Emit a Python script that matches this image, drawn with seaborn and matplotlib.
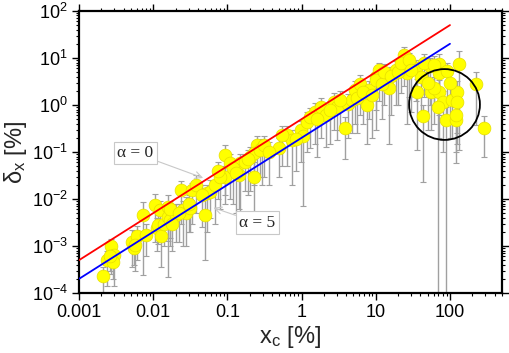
import numpy as np
import pandas as pd
import matplotlib
matplotlib.use("Agg")
import matplotlib.pyplot as plt
import matplotlib.ticker as ticker
import seaborn as sns

# --- data (x_c in %, delta_x in %, error bar ends) ---
xc = [0.0021, 0.0024, 0.0027, 0.0030, 0.0029, 0.0026, 0.0052, 0.0055, 0.0060, 0.0057,
      0.0072, 0.0079, 0.0106, 0.0112, 0.0117, 0.0127, 0.0124, 0.0140, 0.0156, 0.0156,
      0.0170, 0.0202, 0.0237, 0.0250, 0.0276, 0.0315, 0.0335, 0.0380, 0.0505, 0.0530,
      0.0590, 0.0690, 0.094, 0.094, 0.110, 0.142, 0.150, 0.204, 0.226, 0.250,
      0.290, 0.226, 0.278, 0.494, 0.64, 0.75, 0.98, 1.03, 1.2, 1.53,
      1.8, 2.1, 2.75, 3.0, 3.9, 4.2, 4.8, 5.3, 6.2, 7.7,
      8.1, 10.0, 11.0, 10.0, 15.0, 18.6, 24.0, 26.0, 35.0, 41.0,
      53.0, 71.0, 132.0, 36.0, 55.0, 71.0, 71.0, 61.0, 80.0, 68.0,
      107.0, 124.0, 124.0, 43.0, 88.0, 120.0, 120.0, 224.0, 290.0,
      0.017, 0.022, 0.018, 0.030, 0.045, 0.080, 0.075, 0.120, 0.170, 0.190,
      0.130, 0.31, 0.36, 0.55, 0.85, 1.3, 1.6, 2.4, 3.3, 5.6,
      6.8, 9.0, 12.0, 13.0, 16.0, 20.0, 22.0, 28.0, 30.0, 45.0,
      60.0, 90.0, 100.0, 50.0]
dx = [2.3e-4, 5.0e-4, 1.0e-3, 6.5e-4, 4.5e-4, 6.0e-4, 1.2e-3, 9.0e-4, 1.6e-3, 1.05e-3,
      4.6e-3, 1.7e-3, 7.5e-3, 2.4e-3, 2.8e-3, 1.6e-3, 5.8e-3, 2.9e-3, 6.9e-3, 4.2e-3,
      3.5e-3, 4.6e-3, 1.56e-2, 5.8e-3, 5.0e-3, 6.3e-3, 1.56e-2, 2.0e-2, 4.6e-3, 1.32e-2,
      1.42e-2, 1.98e-2, 8.7e-2, 3.0e-2, 5.7e-2, 3.2e-2, 5.7e-2, 7.9e-2, 3.0e-2, 1.4e-1,
      1.2e-1, 9.4e-2, 1.1e-1, 1.2e-1, 2.3e-1, 1.8e-1, 2.9e-1, 2.2e-1, 4.4e-1, 7.2e-1,
      9.2e-1, 6.1e-1, 1.16, 9.2e-1, 3.2e-1, 1.07, 1.27, 2.06, 2.8, 1.0,
      2.06, 4.0, 5.5, 3.4, 2.3, 5.5, 11.6, 4.7, 6.0, 4.0,
      6.6, 7.6, 7.6, 1.9, 1.9, 1.9, 4.7, 2.3, 1.16, 0.92,
      1.27, 1.9, 1.16, 0.57, 0.48, 0.48, 0.61, 2.8, 0.32,
      6.0e-3, 5.0e-3, 3.0e-3, 8.0e-3, 1.2e-2, 3.0e-2, 4.0e-2, 4.5e-2, 6.0e-2, 7.0e-2,
      3.5e-2, 1.4e-1, 1.0e-1, 2.3e-1, 1.9e-1, 5.5e-1, 5.0e-1, 8.0e-1, 1.3, 1.4,
      1.9, 1.6, 2.8, 5.0, 4.2, 5.0, 8.0, 9.0, 5.5, 8.0,
      7.0, 5.2, 3.0, 3.0]
dx_lo = [9e-5, 1.4e-4, 2.5e-4, 1.4e-4, 2.0e-4, 3.0e-4, 3.5e-4, 4.0e-4, 5.0e-4, 3.0e-4,
         2.4e-4, 6.0e-4, 1.2e-3, 8.0e-4, 1.1e-3, 3.5e-4, 1.5e-3, 1.0e-3, 2.2e-4, 1.3e-3,
         1.0e-3, 1.2e-3, 3.0e-3, 1.0e-3, 1.0e-3, 2.0e-3, 3.0e-3, 5.0e-3, 5.0e-4, 2.0e-3,
         4.0e-3, 3.0e-3, 1.2e-2, 8.0e-3, 1.0e-2, 6.0e-3, 4.0e-3, 1.5e-2, 4.0e-3, 3.0e-2,
         2.0e-2, 2.0e-2, 3.0e-2, 3.0e-2, 5.0e-2, 2.0e-2, 6.0e-2, 7.0e-3, 1.0e-1, 1.5e-1,
         2.0e-1, 1.3e-1, 3.0e-1, 1.8e-1, 7.0e-2, 2.0e-1, 2.5e-1, 4.0e-1, 6.0e-1, 1.5e-1,
         5.0e-1, 8.0e-1, 1.2, 3.0e-1, 1.5e-1, 1.0, 2.5, 4.0e-1, 1.2, 6.0e-1,
         1.0, 1.5, 1.1e-1, 1.1e-1, 3.0e-1, 2.0e-1, 6.0e-1, 4.0e-1, 1.0e-1, 5e-5,
         2.0e-1, 2.5e-1, 1.5e-1, 2.3e-2, 5e-5, 5.8e-2, 1.0e-1, 3.7e-1, 7.9e-2,
         1.5e-3, 1.2e-3, 8.0e-4, 2.0e-3, 2.5e-3, 6.0e-3, 1.0e-2, 8.0e-3, 1.5e-2, 1.2e-2,
         5.0e-3, 3.0e-2, 2.0e-2, 5.0e-2, 4.0e-2, 1.2e-1, 8.0e-2, 1.5e-1, 3.0e-1, 2.5e-1,
         4.0e-1, 2.0e-1, 5.0e-1, 1.0, 6.0e-1, 1.0, 1.8, 1.5, 7.0e-1, 1.5,
         1.0, 6.0e-1, 2.0e-1, 3.0e-1]
dx_hi = [3.5e-4, 8.0e-4, 1.4e-3, 1.0e-3, 7.0e-4, 9.0e-4, 2.2e-3, 1.6e-3, 2.6e-3, 1.6e-3,
         8.8e-3, 3.0e-3, 1.3e-2, 4.0e-3, 4.5e-3, 2.8e-3, 9.0e-3, 5.0e-3, 1.2e-2, 7.0e-3,
         5.5e-3, 8.0e-3, 2.4e-2, 9.0e-3, 1.1e-2, 1.0e-2, 2.2e-2, 3.2e-2, 1.0e-2, 2.0e-2,
         2.5e-2, 3.5e-2, 1.4e-1, 5.0e-2, 9.0e-2, 6.0e-2, 9.0e-2, 1.3e-1, 6.0e-2, 2.2e-1,
         1.9e-1, 1.5e-1, 1.7e-1, 2.0e-1, 3.5e-1, 3.0e-1, 4.5e-1, 3.5e-1, 7.0e-1, 1.1,
         1.4, 1.0, 1.8, 1.5, 5.5e-1, 1.7, 2.0, 3.2, 4.4, 1.7,
         3.3, 6.0, 8.0, 5.0, 3.8, 8.5, 17.0, 7.5, 9.0, 6.5,
         10.0, 12.0, 14.0, 3.5, 3.2, 3.4, 7.5, 4.0, 2.0, 1.6,
         2.2, 3.2, 2.0, 1.0, 0.9, 0.9, 1.1, 5.0, 0.57,
         9.0e-3, 8.0e-3, 5.0e-3, 1.2e-2, 2.0e-2, 5.0e-2, 6.0e-2, 7.0e-2, 9.0e-2, 1.1e-1,
         6.0e-2, 2.2e-1, 1.6e-1, 3.5e-1, 3.0e-1, 8.5e-1, 8.0e-1, 1.2, 2.0, 2.2,
         3.0, 2.6, 4.5, 7.5, 6.5, 7.5, 12.0, 13.0, 8.5, 12.0,
         11.0, 8.0, 5.0, 5.0]

# model lines delta = x/2 (alpha=0) and delta = x/5 (alpha=5)
line_x = [0.001, 100]
red_y = [5e-4, 50]
blue_y = [2e-4, 20]

circle_center = (82, 1.05)

df = pd.DataFrame({"xc": xc, "dx": dx, "lo": dx_lo, "hi": dx_hi})
lines = pd.DataFrame({"x": line_x * 2, "y": red_y + blue_y,
                      "model": ["a0", "a0", "a5", "a5"]})

sns.set_theme(style="ticks")
plt.rcParams['font.family'] = ['Liberation Sans', 'DejaVu Sans']
plt.rcParams['mathtext.default'] = 'regular'

fig = plt.figure(figsize=(5.1, 3.53), dpi=100)
ax = fig.add_axes([0.155, 0.170, 0.829, 0.799])

# error bars behind the markers
ax.errorbar(df["xc"], df["dx"],
            yerr=[df["dx"] - df["lo"], df["hi"] - df["dx"]],
            fmt="none", ecolor="#a0a0a0", elinewidth=1.0, capsize=2.2,
            capthick=0.8, zorder=1)
sns.scatterplot(data=df, x="xc", y="dx", ax=ax, s=85, color="#ffff00",
                edgecolor="#e6de00", linewidth=0.5, zorder=3, legend=False)
sns.lineplot(data=lines, x="x", y="y", hue="model", ax=ax,
             palette={"a0": "#ff0000", "a5": "#0000ff"}, linewidth=1.3,
             legend=False, zorder=4)

# circle around the saturated points
ax.plot([circle_center[0]], [circle_center[1]], marker="o", ms=51,
        mfc="none", mec="black", mew=1.3, zorder=5)

ax.set_xscale("log")
ax.set_yscale("log")
ax.set_xlim(0.001, 500)
ax.set_ylim(1e-4, 1e2)
ax.xaxis.set_major_formatter(ticker.FuncFormatter(lambda v, _: f"{v:g}"))
ax.yaxis.set_major_locator(ticker.LogLocator(base=10, numticks=10))

ax.tick_params(which="both", direction="out", top=True, right=True,
               labeltop=False, labelright=False, colors="black")
ax.tick_params(which="major", length=5, width=1.0, labelsize=13, pad=3)
ax.tick_params(which="minor", length=2.5, width=0.8)
for s in ax.spines.values():
    s.set_linewidth(1.6)
    s.set_color("black")

ax.set_xlabel("x$_{c}$ [%]", fontsize=17, labelpad=2)
ax.set_ylabel("δ$_{x}$ [%]", fontsize=17, labelpad=2)

box = dict(boxstyle="square,pad=0.2", fc="white", ec="#c8c8c8", lw=0.8)
arrow = dict(arrowstyle="->", color="#c8c8c8", lw=0.8, shrinkA=0, shrinkB=0)
ax.annotate("α = 0", xy=(0.047, 0.028), xytext=(0.0057, 0.095),
            ha="center", va="center", fontsize=12.5, family="Liberation Serif",
            bbox=box, arrowprops=arrow, zorder=6)
ax.annotate("α = 5", xy=(0.065, 0.0065), xytext=(0.254, 0.0031),
            ha="center", va="center", fontsize=12.5, family="Liberation Serif",
            bbox=box, arrowprops=arrow, zorder=6)

fig.savefig("out.png", dpi=100)
